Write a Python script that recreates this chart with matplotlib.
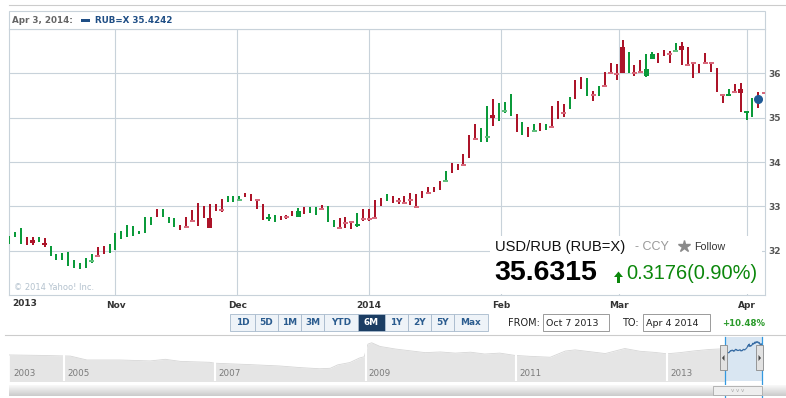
import numpy as np
import pandas as pd
import matplotlib
matplotlib.use("Agg")
import matplotlib.pyplot as plt
from matplotlib.patches import Rectangle, Polygon

W, H = 786, 398

# trading days on screen (Oct 7 sits just left of the frame)
dates = pd.bdate_range("2013-10-08", "2014-04-04")

highs = [
    32.33, 32.41, 32.52, 32.30, 32.31, 32.31, 32.28, 32.11, 31.92, 31.94,
    31.96, 31.80, 31.73, 31.83, 31.92, 32.08, 32.11, 32.14, 32.39, 32.45,
    32.58, 32.55, 32.45, 32.75, 32.77, 32.94, 32.94, 32.77, 32.73, 32.58,
    32.75, 32.92, 33.07, 33.00, 33.05, 33.05, 33.17, 33.23, 33.24, 33.24,
    33.30, 33.28, 33.17, 33.05, 32.83, 32.81, 32.79, 32.81, 32.89, 32.96,
    32.98, 32.98, 32.99, 33.03, 33.00, 32.70, 32.73, 32.75, 32.67, 32.85,
    32.95, 32.94, 33.15, 33.19, 33.27, 33.23, 33.18, 33.23, 33.29, 33.27,
    33.35, 33.43, 33.43, 33.58, 33.80, 33.98, 33.96, 34.17, 34.61, 34.86,
    34.77, 35.27, 35.43, 35.34, 35.35, 35.54, 35.09, 34.90, 34.80, 34.85,
    34.89, 34.85, 35.26, 35.37, 35.30, 35.47, 35.85, 35.91, 35.89, 35.61,
    35.72, 36.04, 36.24, 36.21, 36.76, 36.48, 36.19, 36.31, 36.44, 36.48,
    36.46, 36.53, 36.50, 36.69, 36.70, 36.59, 36.24, 36.21, 36.46, 36.24,
    36.11, 35.53, 35.64, 35.77, 35.79, 35.15, 35.44, 35.57, 35.58,
]
lows = [
    32.14, 32.31, 32.14, 32.13, 32.13, 32.20, 32.08, 31.89, 31.80, 31.79,
    31.65, 31.60, 31.58, 31.61, 31.73, 31.86, 31.93, 31.94, 32.02, 32.26,
    32.31, 32.34, 32.37, 32.39, 32.57, 32.77, 32.77, 32.63, 32.54, 32.47,
    32.52, 32.66, 32.56, 32.73, 32.52, 32.90, 32.87, 33.09, 33.09, 33.11,
    33.20, 33.13, 32.95, 32.70, 32.67, 32.64, 32.69, 32.71, 32.79, 32.77,
    32.83, 32.86, 32.81, 32.94, 32.64, 32.54, 32.51, 32.51, 32.48, 32.54,
    32.67, 32.67, 32.71, 33.00, 33.13, 33.08, 33.05, 33.05, 33.02, 32.98,
    33.18, 33.27, 33.33, 33.36, 33.55, 33.75, 33.83, 33.92, 34.09, 34.52,
    34.45, 34.45, 34.81, 34.92, 35.11, 35.04, 34.67, 34.61, 34.56, 34.68,
    34.69, 34.73, 34.79, 34.98, 35.02, 35.19, 35.43, 35.65, 35.48, 35.37,
    35.50, 35.70, 36.01, 35.85, 36.00, 36.00, 35.93, 36.00, 35.91, 36.33,
    36.24, 36.39, 36.24, 36.48, 36.19, 36.17, 35.89, 36.00, 36.21, 36.04,
    35.58, 35.33, 35.50, 35.56, 35.13, 34.95, 35.02, 35.22, 35.54,
]
opens = [
    32.14, 32.31, 32.14, 32.30, 32.23, 32.20, 32.18, 31.89, 31.80, 31.79,
    31.65, 31.60, 31.58, 31.61, 31.76, 31.88, 32.11, 31.94, 32.02, 32.26,
    32.31, 32.34, 32.37, 32.39, 32.57, 32.94, 32.77, 32.63, 32.54, 32.58,
    32.55, 32.68, 33.07, 33.00, 32.73, 33.05, 32.93, 33.09, 33.09, 33.13,
    33.30, 33.28, 33.16, 33.05, 32.71, 32.64, 32.79, 32.76, 32.89, 32.77,
    32.98, 32.86, 32.81, 32.96, 32.64, 32.54, 32.53, 32.63, 32.66, 32.56,
    32.72, 32.72, 32.74, 33.19, 33.13, 33.23, 33.12, 33.09, 33.16, 33.00,
    33.35, 33.30, 33.43, 33.58, 33.57, 33.98, 33.96, 33.93, 34.61, 34.53,
    34.45, 34.56, 35.07, 34.92, 35.14, 35.04, 35.09, 34.61, 34.80, 34.69,
    34.89, 34.73, 34.81, 35.37, 35.11, 35.19, 35.85, 35.91, 35.48, 35.52,
    35.50, 35.71, 36.02, 36.00, 36.59, 36.00, 36.02, 36.04, 35.93, 36.33,
    36.46, 36.53, 36.45, 36.49, 36.61, 36.20, 36.24, 36.21, 36.25, 36.24,
    36.11, 35.53, 35.50, 35.58, 35.64, 35.11, 35.02, 35.45, 35.57,
]
closes = [
    32.33, 32.41, 32.52, 32.13, 32.17, 32.31, 32.14, 32.11, 31.92, 31.94,
    31.96, 31.80, 31.73, 31.83, 31.78, 31.86, 31.93, 32.14, 32.39, 32.45,
    32.58, 32.55, 32.45, 32.75, 32.77, 32.77, 32.94, 32.77, 32.73, 32.47,
    32.53, 32.66, 32.56, 32.73, 32.52, 32.90, 32.91, 33.23, 33.24, 33.15,
    33.20, 33.13, 33.14, 32.70, 32.75, 32.81, 32.69, 32.74, 32.79, 32.89,
    32.83, 32.98, 32.99, 32.94, 33.00, 32.70, 32.51, 32.61, 32.64, 32.60,
    32.70, 32.70, 32.72, 33.00, 33.27, 33.08, 33.10, 33.07, 33.14, 32.98,
    33.18, 33.28, 33.33, 33.36, 33.59, 33.75, 33.83, 33.92, 34.09, 34.52,
    34.77, 34.58, 35.00, 35.34, 35.16, 35.54, 34.67, 34.90, 34.56, 34.71,
    34.69, 34.85, 34.79, 34.98, 35.09, 35.47, 35.43, 35.65, 35.89, 35.50,
    35.72, 35.70, 36.01, 35.98, 36.00, 36.48, 36.00, 36.02, 36.09, 36.43,
    36.24, 36.39, 36.43, 36.51, 36.53, 36.18, 36.22, 36.00, 36.23, 36.22,
    35.58, 35.51, 35.54, 35.56, 35.56, 35.15, 35.44, 35.42, 35.55,
]

hover_date = "2014-04-03"
hover_close = 35.4242
last_price = 35.6315
change = 0.3176
change_pct = 0.90
range_change = 10.48

month_labels = ["Nov", "Dec", "2014", "Feb", "Mar", "Apr"]
price_ticks = [32, 33, 34, 35, 36]

# navigator (long history)
nav_years = [2004.27, 2004.68, 2005.08, 2005.30, 2005.74, 2006.14, 2006.34, 2006.54,
             2006.93, 2007.00, 2007.46, 2007.86, 2008.13, 2008.39, 2008.53, 2008.63,
             2008.79, 2008.92, 2008.98, 2009.03, 2009.08, 2009.19, 2009.39, 2009.59,
             2009.79, 2009.99, 2010.19, 2010.39, 2010.58, 2010.78, 2010.98, 2011.18,
             2011.45, 2011.65, 2011.78, 2011.98, 2012.18, 2012.44, 2012.64, 2012.84,
             2013.00, 2013.17, 2013.37, 2013.57, 2013.77]
nav_values = [30.8, 30.6, 30.3, 28.6, 28.6, 28.2, 28.9, 28.0,
              27.6, 27.2, 26.6, 26.0, 25.3, 24.8, 25.0, 26.5,
              27.5, 29.5, 30.0, 35.5, 36.1, 34.5, 33.4, 32.6,
              31.8, 32.1, 31.6, 32.0, 31.2, 31.6, 30.6, 30.2,
              29.8, 32.5, 33.0, 32.2, 31.4, 33.6, 32.4, 31.9,
              31.3, 31.8, 32.6, 33.2, 33.5]
nav_separators = [2005, 2007, 2009, 2011, 2013]

range_buttons = ["1D", "5D", "1M", "3M", "YTD", "6M", "1Y", "2Y", "5Y", "Max"]
active_button = "6M"

plt.rcParams["font.family"] = ["DejaVu Sans"]

grid_c = "#c8d2da"
red, green = "#ac1429", "#0b9a3a"
pink, mint = "#d8697c", "#5fbf7c"


def px_box(left, top, right, bottom):
    return [left / W, 1 - bottom / H, (right - left) / W, (bottom - top) / H]


fig = plt.figure(figsize=(W / 100, H / 100), dpi=100)
ax = fig.add_axes(px_box(9, 29, 765, 295))
nav = fig.add_axes(px_box(9, 337, 762, 381))
ov = fig.add_axes([0, 0, 1, 1], zorder=5)

# ---- main candlestick panel ----
idx = np.arange(len(dates))
o, c = np.array(opens), np.array(closes)
hi, lo = np.array(highs), np.array(lows)
up = c >= o
top = np.maximum(o, c)
bot = np.minimum(o, c)

ax.vlines(idx, lo, hi, colors=np.where(up, green, red), lw=1.25, antialiased=False, zorder=3)

has_body = ~((bot <= lo + 1e-9) & (top >= hi - 1e-9))
tiny = (top - bot) < 0.03
body_h = np.maximum(top - bot, 0.045)
body_b = np.where(top - bot < 0.045, (top + bot) / 2 - 0.0225, bot)
body_c = np.where(up, np.where(tiny, mint, green), np.where(tiny, pink, red))
ax.bar(idx[has_body], body_h[has_body], bottom=body_b[has_body], width=0.85,
       color=body_c[has_body], lw=0, zorder=4)

hpos = dates.get_loc(pd.Timestamp(hover_date))
ax.plot(idx[hpos], hover_close, "o", ms=5.5, color="#1f5a96", zorder=6)

ords = np.array([d.toordinal() for d in dates])
month_starts = pd.date_range("2013-11-01", "2014-04-01", freq="MS")
month_pos = np.interp([d.toordinal() for d in month_starts], ords, idx)

ax.set_xlim(-0.05, len(dates) - 1 + 0.13)
ax.set_ylim(31, 37)
ax.set_xticks(month_pos, month_labels)
ax.set_yticks(price_ticks)
ax.yaxis.tick_right()
ax.tick_params(axis="x", length=0, pad=4, labelsize=6.5, labelcolor="#333")
ax.tick_params(axis="y", length=0, pad=2.5, labelsize=6.5, labelcolor="#555")
for lab in ax.get_xticklabels() + ax.get_yticklabels():
    lab.set_fontweight("bold")
ax.grid(True, color=grid_c, lw=0.8)
ax.set_axisbelow(True)
for s in ax.spines.values():
    s.set_color(grid_c)
    s.set_linewidth(0.8)

# ---- navigator ----
nav.fill_between(nav_years, nav_values, 0, color="#e5e5e5", lw=0, zorder=1)
nav.plot(nav_years, nav_values, color="#d6d6d6", lw=0.6, zorder=1)
dec_years = dates.year + (dates.dayofyear - 1) / 365
sel0 = 2013 + (pd.Timestamp("2013-10-07").dayofyear - 1) / 365
sel1 = dec_years[-1]
nav.axvspan(sel0, sel1, color="#d9e6f2", lw=0, zorder=2)
nav.plot(dec_years, closes, color="#3a6ea5", lw=0.8, zorder=3)
for yr in nav_separators:
    nav.axvline(yr, color="white", lw=1.5, zorder=2)
    nav.text(yr + 0.04, 0.18, str(yr), transform=nav.get_xaxis_transform(),
             fontsize=6.3, color="#7a7a7a", va="center", zorder=4)
nav.text(2004.32, 0.18, "2003", transform=nav.get_xaxis_transform(),
         fontsize=6.3, color="#7a7a7a", va="center", zorder=4)
for xv in (sel0, sel1):
    nav.axvline(xv, ymin=-0.36, ymax=1, color="#3399e0", lw=0.9, clip_on=False, zorder=5)
nav.set_xlim(2004.265, 2014.261)
nav.set_ylim(19.47, 38.6)
nav.axis("off")

# ---- overlay: header, quote box, controls ----
ov.set_xlim(0, W)
ov.set_ylim(H, 0)
ov.axis("off")

ov.plot([9, 786], [5, 5], color="#cccccc", lw=0.8)
ov.add_patch(Rectangle((9, 11), 756, 18, fc="white", ec=grid_c, lw=0.8))
ov.text(12, 20.5, "Apr 3, 2014:", fontsize=6.3, fontweight="bold", color="#666666", va="center")
ov.add_patch(Rectangle((81, 18.5), 9, 3.5, fc="#1f4e85", lw=0))
ov.text(95, 20.5, f"RUB=X {hover_close:.4f}", fontsize=6.3, fontweight="bold",
        color="#1f4e85", va="center")

ov.text(12, 304, "2013", fontsize=6.5, fontweight="bold", color="#333", va="center")
ov.text(14, 287, "\u00a9 2014 Yahoo! Inc.", fontsize=6, color="#b4c2ce", va="center")

# quote box
ov.add_patch(Rectangle((490, 236), 272, 58, fc="white", lw=0))
ov.text(495, 246.5, "USD/RUB (RUB=X)", fontsize=10.6, family="Liberation Sans",
        color="#111111", va="center")
ov.text(635, 246.5, "- CCY", fontsize=9, family="Liberation Sans", color="#9a9a9a", va="center")
ov.plot(684, 246, marker="*", ms=9, color="#8a8a8a", mec="#8a8a8a")
ov.text(694, 246.5, "Follow", fontsize=7.7, family="Liberation Sans", color="#333", va="center")
ov.text(494, 272.5, f"{last_price:.4f}", fontsize=20.5, fontweight="bold",
        family="Liberation Sans", color="black", va="center")
gc = "#0b870b"
ov.add_patch(Polygon([(614, 277), (623, 277), (618.5, 271.5)], closed=True, fc=gc, lw=0))
ov.add_patch(Rectangle((617, 276.5), 3, 6, fc=gc, lw=0))
ov.text(626, 273.5, f"{change:.4f}({change_pct:.2f}%)", fontsize=14.4,
        family="Liberation Sans", color=gc, va="center")

# range buttons
edges = [230, 255, 278, 301, 324, 358, 385, 408, 431, 454, 487.5]
for lab, l, r in zip(range_buttons, edges[:-1], edges[1:]):
    active = lab == active_button
    ov.add_patch(Rectangle((l, 314), r - l, 17, fc="#1b3d63" if active else "#eef3f8",
                           ec="#a7b9cc", lw=0.6))
    ov.text((l + r) / 2, 322.7, lab, fontsize=6.4, fontweight="bold", ha="center", va="center",
            color="white" if active else "#2b5c8f")

ov.text(508, 323, "FROM:", fontsize=7, color="#222", va="center")
ov.add_patch(Rectangle((543, 314), 66, 17, fc="white", ec="#8a8a8a", lw=0.6))
ov.text(546, 323, "Oct 7 2013", fontsize=6.8, color="#222", va="center")
ov.text(622, 323, "TO:", fontsize=7, color="#222", va="center")
ov.add_patch(Rectangle((643, 314), 67, 17, fc="white", ec="#8a8a8a", lw=0.6))
ov.text(646, 323, "Apr 4 2014", fontsize=6.8, color="#222", va="center")
ov.text(722, 323, f"+{range_change:.2f}%", fontsize=6.2, fontweight="bold",
        color="#2a9a2a", va="center")

ov.plot([5, 786], [335, 335], color="#cccccc", lw=0.8)

# navigator handles
for hx, pts in ((720, [(724.5, 355), (724.5, 361), (722, 358)]),
                (756, [(758.5, 355), (758.5, 361), (761, 358)])):
    ov.add_patch(Rectangle((hx, 345), 7, 25, fc="#e2e2e2", ec="#8a8a8a", lw=0.6, zorder=6))
    ov.add_patch(Polygon(pts, closed=True, fc="#444", lw=0, zorder=7))

# scrollbar
grad = np.linspace(0.97, 0.80, 12)[:, None]
ov.imshow(grad, extent=(9, 786, 396, 385), aspect="auto", cmap="gray", vmin=0, vmax=1, zorder=1)
ov.add_patch(Rectangle((713, 386), 49, 9, fc="#eeeeee", ec="#aaaaaa", lw=0.6, zorder=6))
ov.text(737.5, 390.5, "v v v", fontsize=4, color="#aaaaaa", ha="center", va="center", zorder=7)
ov.set_xlim(0, W)
ov.set_ylim(H, 0)

fig.savefig("out.png", dpi=100)
